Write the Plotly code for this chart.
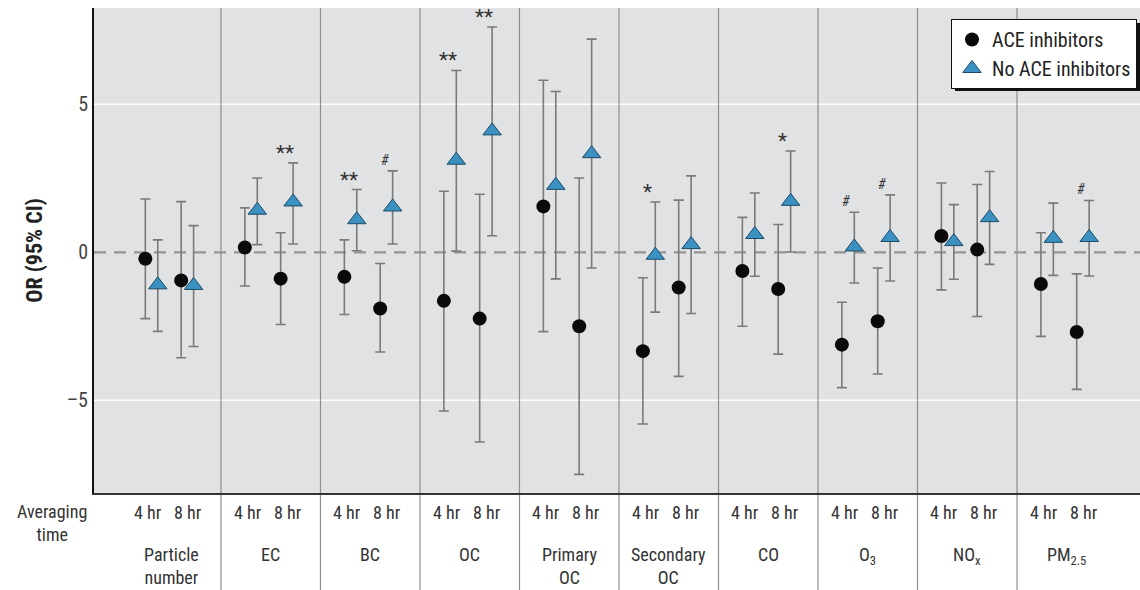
import plotly.graph_objects as go

pollutants = ["Particle<br>number", "EC", "BC", "OC", "Primary<br>OC", "Secondary<br>OC",
              "CO", "O<sub>3</sub>", "NO<sub>x</sub>", "PM<sub>2.5</sub>"]
avg_labels = ["4 hr", "8 hr"]
series_names = ["ACE inhibitors", "No ACE inhibitors"]

ace_4hr = [-0.22, 0.16, -0.83, -1.64, 1.55, -3.34, -0.63, -3.12, 0.55, -1.07]
ace_4hr_lo = [-2.24, -1.14, -2.10, -5.36, -2.68, -5.80, -2.50, -4.57, -1.27, -2.84]
ace_4hr_hi = [1.80, 1.50, 0.42, 2.06, 5.81, -0.86, 1.18, -1.69, 2.34, 0.66]
ace_8hr = [-0.95, -0.89, -1.90, -2.24, -2.50, -1.19, -1.24, -2.33, 0.09, -2.69]
ace_8hr_lo = [-3.56, -2.44, -3.37, -6.41, -7.50, -4.19, -3.44, -4.11, -2.17, -4.63]
ace_8hr_hi = [1.71, 0.66, -0.38, 1.96, 2.51, 1.76, 0.94, -0.53, 2.29, -0.73]

noace_4hr = [-1.10, 1.42, 1.10, 3.11, 2.26, -0.10, 0.60, 0.18, 0.36, 0.47]
noace_4hr_lo = [-2.67, 0.26, 0.05, 0.04, -0.90, -2.02, -0.81, -1.04, -0.91, -0.78]
noace_4hr_hi = [0.42, 2.51, 2.12, 6.14, 5.43, 1.70, 2.00, 1.35, 1.61, 1.66]
noace_8hr = [-1.12, 1.70, 1.53, 4.10, 3.33, 0.26, 1.72, 0.50, 1.17, 0.50]
noace_8hr_lo = [-3.18, 0.28, 0.28, 0.56, -0.53, -2.07, 0.01, -0.97, -0.41, -0.80]
noace_8hr_hi = [0.90, 3.02, 2.75, 7.61, 7.20, 2.58, 3.42, 1.94, 2.73, 1.75]

sig_noace_4hr = ["", "", "**", "**", "", "*", "", "#", "", ""]
sig_noace_8hr = ["", "**", "#", "**", "", "", "*", "#", "", "#"]

y_ticks = [-5, 0, 5]
y_tick_text = ["\u20135", "0", "5"]
grid_vals = [-5, 5]

FONT = ("Liberation Sans Narrow, Roboto Condensed, Open Sans Condensed, Noto Sans Condensed, "
        "DejaVu Sans Condensed, Arial Narrow, sans-serif")
n = len(pollutants)
off = {"ace4": 0.24, "no4": 0.365, "ace8": 0.60, "no8": 0.725}

fig = go.Figure()

def err(vals, lo, hi):
    return ([h - v for v, h in zip(vals, hi)], [v - l for v, l in zip(vals, lo)])

ace_x = [i + off["ace4"] for i in range(n)] + [i + off["ace8"] for i in range(n)]
ace_y = ace_4hr + ace_8hr
ace_up, ace_dn = err(ace_y, ace_4hr_lo + ace_8hr_lo, ace_4hr_hi + ace_8hr_hi)
no_x = [i + off["no4"] for i in range(n)] + [i + off["no8"] for i in range(n)]
no_y = noace_4hr + noace_8hr
no_up, no_dn = err(no_y, noace_4hr_lo + noace_8hr_lo, noace_4hr_hi + noace_8hr_hi)

eb = dict(type="data", symmetric=False, color="#7a7a7a", thickness=1.6, width=5)
fig.add_trace(go.Scatter(
    x=ace_x, y=ace_y, mode="markers", name=series_names[0],
    marker=dict(symbol="circle", size=14, color="#0a0a0a", line=dict(width=0)),
    error_y=dict(eb, array=ace_up, arrayminus=ace_dn)))
fig.add_trace(go.Scatter(
    x=no_x, y=no_y, mode="markers", name=series_names[1],
    marker=dict(symbol="triangle-up", size=16, color="#3b92c2", line=dict(width=1, color="#1c4a66")),
    error_y=dict(eb, array=no_up, arrayminus=no_dn)))

W, H = 1140, 590
ML, MT, MB = 94, 8, 97
PW, PH = W - ML, H - MT - MB

shapes = []
for g in grid_vals:
    shapes.append(dict(type="line", xref="paper", x0=0, x1=1, yref="y", y0=g, y1=g,
                       line=dict(color="white", width=1.5), layer="below"))
shapes.append(dict(type="line", xref="paper", x0=0, x1=1, yref="y", y0=0, y1=0,
                   line=dict(color="#959595", width=2.2, dash="12px,8px"), layer="below"))
for i in range(1, n):
    shapes.append(dict(type="line", xref="x", x0=i, x1=i, yref="paper", y0=-MB / PH, y1=1,
                       line=dict(color="#8e8e8e", width=1.2), layer="below"))
# legend drop shadow
shapes.append(dict(type="rect", xref="paper", yref="paper",
                   x0=(955 - ML) / PW, x1=(1140 - ML) / PW,
                   y0=(H - MB - 91) / PH, y1=(H - MB - 23) / PH,
                   fillcolor="#111111", line=dict(width=0), layer="above"))

ann = []
txt = "#333333"
LBL = 18
for i, name in enumerate(pollutants):
    for j, lab in enumerate(avg_labels):
        ann.append(dict(x=i + (0.27 if j == 0 else 0.67), y=0, xref="x", yref="paper",
                        text=lab, showarrow=False, yanchor="middle", yshift=-19,
                        font=dict(family=FONT, size=LBL, color=txt)))
    ann.append(dict(x=i + 0.5, y=0, xref="x", yref="paper", text=name, showarrow=False,
                    yanchor="top", yshift=-49, font=dict(family=FONT, size=LBL, color=txt)))
ann.append(dict(x=(52 - ML) / PW, y=0, xref="paper", yref="paper", text="Averaging<br>time",
                showarrow=False, xanchor="center", yanchor="top", yshift=-6,
                font=dict(family=FONT, size=LBL, color=txt)))

for sigs, key, hi in [(sig_noace_4hr, "no4", noace_4hr_hi), (sig_noace_8hr, "no8", noace_8hr_hi)]:
    for i, s in enumerate(sigs):
        if not s:
            continue
        if s == "#":
            t, sz, ys = "<i>#</i>", 14, 1
        else:
            t, sz, ys = s, 21, -4
        ann.append(dict(x=i + off[key], y=hi[i], xref="x", yref="y", text=t, showarrow=False,
                        yanchor="bottom", xshift=-8, yshift=ys,
                        font=dict(family=FONT, size=sz, color="#333333")))

fig.update_layout(
    width=W, height=H,
    margin=dict(l=ML, r=0, t=MT, b=MB),
    paper_bgcolor="white", plot_bgcolor="#e1e2e4",
    font=dict(family=FONT, color=txt),
    showlegend=True,
    legend=dict(x=(1137 - ML) / PW, y=(H - MB - 19) / PH, xanchor="right", yanchor="top",
                bgcolor="white", bordercolor="#111111", borderwidth=1,
                font=dict(family=FONT, size=20, color="#222222"),
                itemwidth=30, tracegroupgap=0),
    shapes=shapes, annotations=ann,
    xaxis=dict(range=[-0.276, 10.236], showgrid=False, zeroline=False, showticklabels=False,
               ticks="", showline=True, linecolor="#333333", linewidth=2, fixedrange=True),
    yaxis=dict(range=[-8.13, 8.25], tickvals=y_ticks, ticktext=y_tick_text, showgrid=False,
               zeroline=False, ticks="", showline=True, linecolor="#111111", linewidth=2,
               tickfont=dict(family=FONT, size=20, color="#444444"),
               title=dict(text="<b>OR (95% CI)</b>", font=dict(family=FONT, size=22, color="#222222"),
                          standoff=18)),
)

fig.write_html("out.html", config={"displayModeBar": False},
               post_script="document.body.style.margin='0';document.body.style.overflow='hidden';")
